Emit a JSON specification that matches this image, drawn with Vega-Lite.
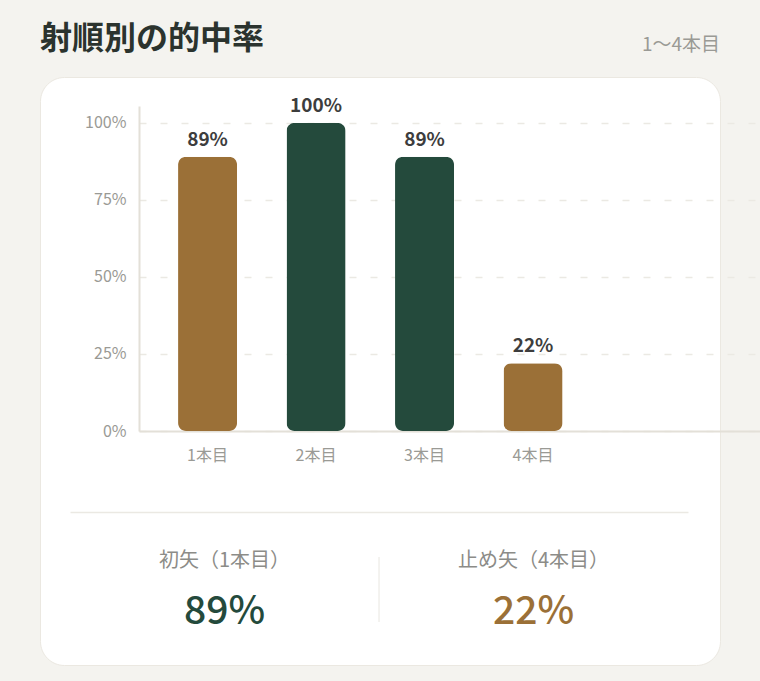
{
  "$schema": "https://vega.github.io/schema/vega-lite/v6.json",
  "width": 680,
  "height": 588,
  "autosize": "none",
  "padding": {"left": 40, "top": 77, "right": 40, "bottom": 16},
  "background": "#f4f3ef",
  "config": {
    "font": "Noto Sans CJK JP",
    "view": {"fill": "#ffffff", "stroke": "#ebe8e1", "strokeWidth": 1, "cornerRadius": 24}
  },
  "title": {
    "text": "射順別の的中率",
    "anchor": "start",
    "frame": "group",
    "baseline": "alphabetic",
    "offset": 0,
    "dy": 45,
    "fontSize": 32,
    "fontWeight": 700,
    "color": "#2b332e"
  },
  "datasets": {
    "shots": [
      {"shot": "1本目", "rate": 0.89},
      {"shot": "2本目", "rate": 1.0},
      {"shot": "3本目", "rate": 0.89},
      {"shot": "4本目", "rate": 0.22}
    ],
    "summary": [
      {"label": "初矢（1本目）", "rate": 0.89},
      {"label": "止め矢（4本目）", "rate": 0.22}
    ],
    "range": [{"text": "1〜4本目"}]
  },
  "layer": [
    {
      "data": {"name": "shots"},
      "encoding": {
        "x": {
          "field": "shot",
          "type": "nominal",
          "sort": null,
          "scale": {
            "domain": ["1本目", "2本目", "3本目", "4本目", " "],
            "range": [99, 720],
            "paddingInner": 0.456,
            "paddingOuter": 0.59,
            "align": 0.305
          },
          "axis": {
            "orient": "bottom",
            "offset": -234,
            "title": null,
            "labelAngle": 0,
            "labelFontSize": 16,
            "labelColor": "#9a9a95",
            "labelPadding": 16,
            "ticks": false,
            "domainColor": "#e3e0d8",
            "domainWidth": 2
          }
        },
        "y": {
          "field": "rate",
          "type": "quantitative",
          "scale": {"domain": [0, 1.055], "range": [354, 29], "nice": false},
          "axis": {
            "orient": "left",
            "offset": -99,
            "title": null,
            "values": [0, 0.25, 0.5, 0.75, 1],
            "format": ".0%",
            "labelFontSize": 16,
            "labelColor": "#9a9a95",
            "labelPadding": 13,
            "ticks": false,
            "domainColor": "#e3e0d8",
            "domainWidth": 2,
            "grid": true,
            "gridColor": "#ebe9e3",
            "gridDash": [7, 14],
            "gridWidth": 1.5
          }
        }
      },
      "layer": [
        {
          "mark": {"type": "bar", "cornerRadius": 8},
          "encoding": {
            "color": {
              "condition": {"test": "datum.shot === '1本目' || datum.shot === '4本目'", "value": "#9b7037"},
              "value": "#244a3c"
            }
          }
        },
        {
          "mark": {"type": "text", "baseline": "bottom", "dy": -7, "fontSize": 19, "fontWeight": 600, "color": "#3d3d3d"},
          "encoding": {"text": {"field": "rate", "type": "quantitative", "format": ".0%"}}
        }
      ]
    },
    {
      "data": {"name": "summary"},
      "encoding": {
        "x": {
          "field": "label",
          "type": "nominal",
          "sort": null,
          "scale": {"range": [30, 648], "paddingInner": 0, "paddingOuter": 0},
          "axis": {
            "orient": "top",
            "offset": -435,
            "title": null,
            "labels": false,
            "ticks": false,
            "grid": false,
            "domainColor": "#ebe9e3",
            "domainWidth": 1.5
          }
        }
      },
      "layer": [
        {
          "mark": {"type": "text", "baseline": "middle", "fontSize": 20, "color": "#8c8c88"},
          "encoding": {"text": {"field": "label"}, "y": {"value": 484}}
        },
        {
          "mark": {"type": "text", "baseline": "middle", "fontSize": 39, "fontWeight": 500},
          "encoding": {
            "text": {"field": "rate", "type": "quantitative", "format": ".0%"},
            "y": {"value": 535},
            "color": {
              "condition": {"test": "datum.label === '初矢（1本目）'", "value": "#244a3c"},
              "value": "#9b7037"
            }
          }
        },
        {
          "transform": [{"filter": "datum.label === '止め矢（4本目）'"}],
          "mark": {"type": "rule", "color": "#e8e6e0", "strokeWidth": 1},
          "encoding": {
            "x": {"field": "label", "type": "nominal", "bandPosition": 0},
            "y": {"value": 480},
            "y2": {"value": 545}
          }
        }
      ]
    },
    {
      "data": {"name": "range"},
      "mark": {"type": "text", "align": "right", "baseline": "alphabetic", "fontSize": 19, "color": "#9a9a95"},
      "encoding": {
        "text": {"field": "text"},
        "x": {"value": 680},
        "y": {"value": -26}
      }
    }
  ],
  "resolve": {"scale": {"x": "independent"}}
}
